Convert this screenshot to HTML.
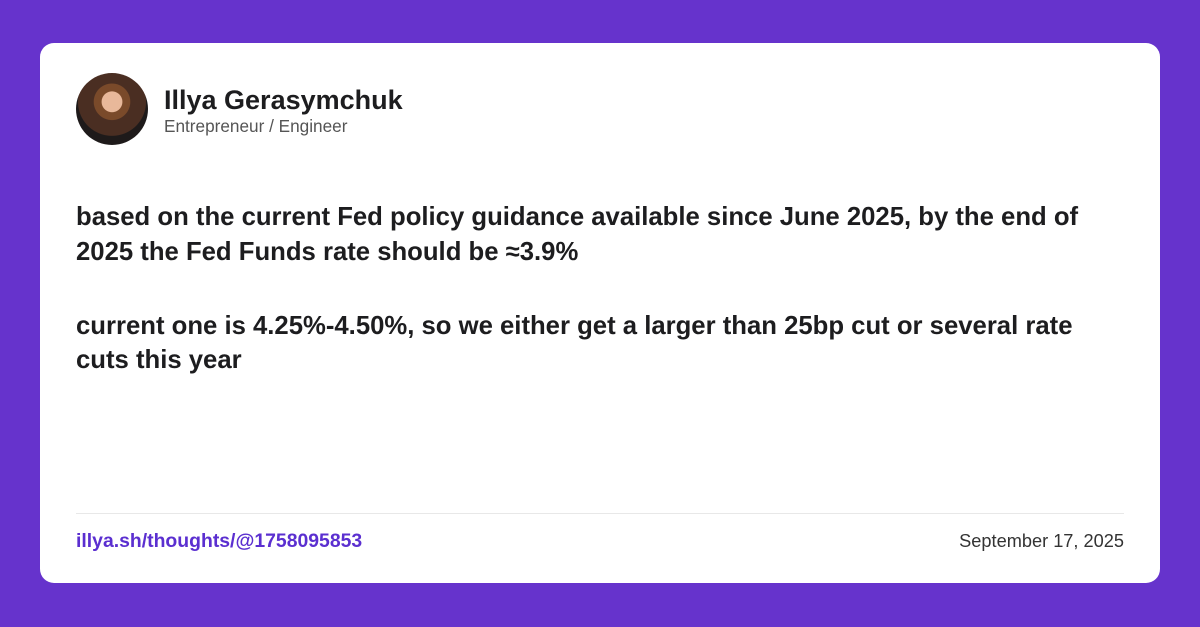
<!DOCTYPE html>
<html><head><meta charset="utf-8"><style>
html,body{margin:0;padding:0;}
body{width:1200px;height:627px;background:#6633cc;position:relative;overflow:hidden;font-family:"Liberation Sans",sans-serif;}
.card{position:absolute;left:40px;top:43px;width:1120px;height:540px;background:#fff;border-radius:14px;}
.avatar{position:absolute;left:76px;top:73px;width:72px;height:72px;border-radius:50%;background:radial-gradient(circle at 50% 40%,#e8b89a 0 18%,#7a4a2a 19% 32%,#4a2e22 33% 60%,#1e1a1a 61%);overflow:hidden;}
.name{position:absolute;left:164px;top:85px;font-size:27px;font-weight:bold;color:#1d1d1f;white-space:nowrap;}
.role{position:absolute;left:164px;top:116px;font-size:17.2px;color:#555;white-space:nowrap;}
.body{position:absolute;left:76px;font-size:25.7px;font-weight:bold;color:#1d1d1f;white-space:nowrap;}
.div{position:absolute;left:76px;top:513px;width:1048px;height:1px;background:#e8e8e8;}
.link{position:absolute;left:76px;top:530px;font-size:19.4px;font-weight:bold;color:#5b2fd0;white-space:nowrap;}
.date{position:absolute;right:76px;top:531px;font-size:18.2px;color:#333;white-space:nowrap;}
</style></head><body>
<div class="card"></div>
<div class="avatar"></div>
<div class="name">Illya Gerasymchuk</div>
<div class="role">Entrepreneur / Engineer</div>
<div class="body" style="top:203px">based on the current Fed policy guidance available since June 2025, by the end of</div>
<div class="body" style="top:238px">2025 the Fed Funds rate should be ≈3.9%</div>
<div class="body" style="top:312px">current one is 4.25%-4.50%, so we either get a larger than 25bp cut or several rate</div>
<div class="body" style="top:346px">cuts this year</div>
<div class="div"></div>
<div class="link">illya.sh/thoughts/@1758095853</div>
<div class="date">September 17, 2025</div>
</body></html>
